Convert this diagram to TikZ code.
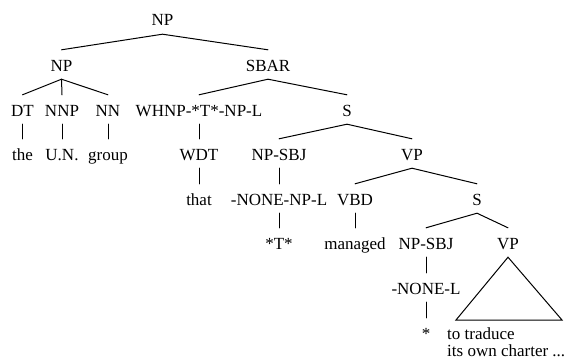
\documentclass[tikz,border=0pt]{standalone}
\usepackage{fontspec}
\setmainfont{Liberation Serif}
\usetikzlibrary{positioning,calc}
\tikzset{
  cat/.style={inner xsep=1pt, inner ysep=0pt, text height=21pt, text depth=8pt, anchor=base, font=\fontsize{17}{16}\selectfont},
  yield/.style={inner sep=0pt, anchor=base west, align=left, font=\fontsize{17}{16.5}\selectfont},
  branch/.style={line width=1pt, line cap=round},
}

\begin{document}
\begin{tikzpicture}[x=1pt, y=-1pt]
  \useasboundingbox (0,0) rectangle (569,361);
  \node[cat] (np) at (162.5,26) {NP};
  \node[cat] (npl) at (61.5,71) {NP};
  \node[cat] (sbar) at (268,71) {SBAR};
  \node[cat] (dt) at (22.5,116) {DT};
  \node[cat] (nnp) at (62,116) {NNP};
  \node[cat] (nn) at (108,116) {NN};
  \node[cat] (whnp) at (199,116) {WHNP-*T*-NP-L};
  \node[cat] (s1) at (347,116) {S};
  \node[cat] (the) at (22.5,160) {the};
  \node[cat] (un) at (62,160) {U.N.};
  \node[cat] (group) at (108,160) {group};
  \node[cat] (wdt) at (199,160) {WDT};
  \node[cat] (npsbj) at (279,160) {NP-SBJ};
  \node[cat] (vp1) at (412,160) {VP};
  \node[cat] (that) at (199,205) {that};
  \node[cat] (none1) at (279,205) {-NONE-NP-L};
  \node[cat] (vbd) at (355,205) {VBD};
  \node[cat] (s2) at (477,205) {S};
  \node[cat] (tstar) at (279,249) {*T*};
  \node[cat] (managed) at (355,249) {managed};
  \node[cat] (npsbj2) at (426,249) {NP-SBJ};
  \node[cat] (vp2) at (508,249) {VP};
  \node[cat] (none2) at (426,294) {-NONE-L};
  \node[cat] (star) at (426,339) {*};
  \node[yield] (yld) at (447,356) {to traduce\\its own charter ...};
  \coordinate (tl) at (456,320);
  \coordinate (tr) at (562,320);

  \draw[branch] (npl.north) -- (np.south) -- (sbar.north);
  \draw[branch] (dt.north) -- (npl.south) -- (nn.north);
  \draw[branch] (npl.south) -- (nnp.north);
  \draw[branch] (whnp.north) -- (sbar.south) -- (s1.north);
  \draw[branch] (npsbj.north) -- (s1.south) -- (vp1.north);
  \draw[branch] (vbd.north) -- (vp1.south) -- (s2.north);
  \draw[branch] (npsbj2.north) -- (s2.south) -- (vp2.north);
  \draw[branch] (dt.south) -- (the.north);
  \draw[branch] (nnp.south) -- (un.north);
  \draw[branch] (nn.south) -- (group.north);
  \draw[branch] (whnp.south) -- (wdt.north);
  \draw[branch] (wdt.south) -- (that.north);
  \draw[branch] (npsbj.south) -- (none1.north);
  \draw[branch] (none1.south) -- (tstar.north);
  \draw[branch] (vbd.south) -- (managed.north);
  \draw[branch] (npsbj2.south) -- (none2.north);
  \draw[branch] (none2.south) -- (star.north);
  \draw[branch, line join=miter] (vp2.south) -- (tl) -- (tr) -- cycle;
\end{tikzpicture}
\end{document}
